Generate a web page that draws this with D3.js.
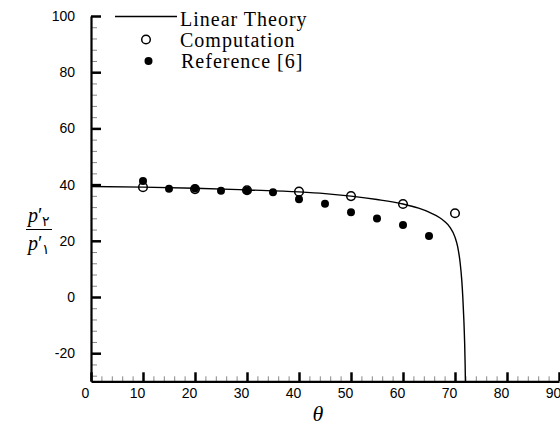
<!DOCTYPE html>
<html>
<head>
<meta charset="utf-8">
<script src="https://cdn.jsdelivr.net/npm/d3@7/dist/d3.min.js"></script>
<style>
  html, body { margin: 0; padding: 0; background: #fff; }
  svg { display: block; }
</style>
</head>
<body>
<svg id="chart" width="560" height="425"></svg>
<script>
// ---- data ----
const xTicks = [0, 10, 20, 30, 40, 50, 60, 70, 80, 90];
const yTicks = [-20, 0, 20, 40, 60, 80, 100];
const theoryTheta = [0, 10, 20, 30, 40, 45, 50, 55, 60, 63, 65, 67, 68, 69, 70, 70.5, 71, 71.3, 71.5, 71.7, 71.85, 71.95, 72.0];
const theoryValue = [39.3, 39.1, 38.7, 38.1, 37.4, 36.8, 35.9, 34.7, 33.1, 31.6, 30.2, 28.3, 26.9, 24.9, 21.3, 18.0, 12.0, 6.0, 0.0, -8.0, -16.0, -24.0, -30.0];
const compTheta = [10, 20, 30, 40, 50, 60, 70];
const compValue = [39.1, 38.4, 38.0, 37.5, 35.9, 33.1, 29.8];
const refTheta = [10, 15, 20, 25, 30, 35, 40, 45, 50, 55, 60, 65];
const refValue = [41.3, 38.5, 38.6, 37.8, 37.9, 37.3, 34.8, 33.2, 30.2, 27.9, 25.6, 21.7];
const legendLabels = ["Linear Theory", "Computation", "Reference [6]"];

// ---- scales ----
const svg = d3.select("#chart");
const x = d3.scaleLinear().domain([0, 90]).range([91, 559]);
const y = d3.scaleLinear().domain([-30, 100]).range([381.3, 16]);

// minor ticks
const xMinor = d3.range(0, 91, 2).filter(v => v % 10 !== 0);
const yMinor = d3.range(-28, 100, 4).filter(v => v % 20 !== 0);

const gMinor = svg.append("g").attr("stroke", "#888").attr("stroke-width", 1);
gMinor.selectAll("line.xm").data(xMinor).enter().append("line")
  .attr("x1", d => x(d) + 0.5).attr("x2", d => x(d) + 0.5)
  .attr("y1", y(-30)).attr("y2", y(-30) - 5);
gMinor.selectAll("line.ym").data(yMinor).enter().append("line")
  .attr("x1", x(0)).attr("x2", x(0) + 6)
  .attr("y1", d => y(d) + 0.5).attr("y2", d => y(d) + 0.5);

// axes
const fmt = d => String(d); // plain hyphen-minus as in the reference
const xAxis = d3.axisBottom(x).tickValues(xTicks).tickFormat(fmt).tickSizeInner(-9).tickSizeOuter(0).tickPadding(7);
const yAxis = d3.axisLeft(y).tickValues(yTicks).tickFormat(fmt).tickSizeInner(-10).tickSizeOuter(0).tickPadding(16);

const gx = svg.append("g").attr("transform", `translate(0,${y(-30)})`).call(xAxis);
const gy = svg.append("g").attr("transform", `translate(${x(0)},0)`).call(yAxis);

[gx, gy].forEach(g => {
  g.select(".domain").attr("stroke", "#000").attr("stroke-width", 2.2);
  g.selectAll(".tick line").attr("stroke", "#000").attr("stroke-width", 2.5);
  g.selectAll(".tick text").attr("fill", "#000")
    .style("font-family", "'Liberation Sans', Arial, sans-serif").style("font-size", "14px");
});
gx.selectAll(".tick text").attr("dx", -6);

// theory curve
const line = d3.line().x(d => x(d[0])).y(d => y(d[1])).curve(d3.curveMonotoneX);
const theoryPts = theoryTheta.map((t, i) => [t, theoryValue[i]]);
svg.append("path").datum(theoryPts).attr("d", line)
  .attr("fill", "none").attr("stroke", "#000").attr("stroke-width", 1.4);

// reference (filled)
svg.selectAll("circle.ref").data(refTheta.map((t, i) => [t, refValue[i]])).enter()
  .append("circle").attr("cx", d => x(d[0])).attr("cy", d => y(d[1])).attr("r", 4)
  .attr("fill", "#000");

// computation (open)
svg.selectAll("circle.comp").data(compTheta.map((t, i) => [t, compValue[i]])).enter()
  .append("circle").attr("cx", d => x(d[0])).attr("cy", d => y(d[1])).attr("r", 4.3)
  .attr("fill", "none").attr("stroke", "#000").attr("stroke-width", 1.5);

// legend
const serif = "'Liberation Serif', 'Times New Roman', serif";
const lg = svg.append("g");
lg.append("line").attr("x1", 115).attr("x2", 177).attr("y1", 16.5).attr("y2", 16.5)
  .attr("stroke", "#000").attr("stroke-width", 1.4);
lg.append("circle").attr("cx", 146).attr("cy", 39.5).attr("r", 4.3)
  .attr("fill", "none").attr("stroke", "#000").attr("stroke-width", 1.5);
lg.append("circle").attr("cx", 148.5).attr("cy", 61).attr("r", 4).attr("fill", "#000");
const legY = [26, 47, 68];
const legX = [180, 180, 181];
legendLabels.forEach((t, i) => {
  lg.append("text").attr("x", legX[i]).attr("y", legY[i]).text(t)
    .style("font-family", serif).style("font-size", "20px").style("letter-spacing", "1px")
    .attr("fill", "#000");
});

// axis titles
svg.append("text").attr("x", 318).attr("y", 421).attr("text-anchor", "middle")
  .style("font-family", serif).style("font-style", "italic").style("font-size", "22px")
  .text("θ");

const yl = svg.append("g");
const num = yl.append("text").attr("x", 28).attr("y", 222)
  .style("font-family", serif).style("font-size", "20px");
num.append("tspan").style("font-style", "italic").text("p");
num.append("tspan").text("′");
num.append("tspan").attr("dy", 4).style("font-size", "14px").text("۲");
yl.append("line").attr("x1", 26).attr("x2", 52).attr("y1", 229.5).attr("y2", 229.5)
  .attr("stroke", "#000").attr("stroke-width", 1);
const den = yl.append("text").attr("x", 28).attr("y", 250)
  .style("font-family", serif).style("font-size", "20px");
den.append("tspan").style("font-style", "italic").text("p");
den.append("tspan").text("′");
den.append("tspan").attr("dy", 4).style("font-size", "14px").text("۱");
</script>
</body>
</html>
